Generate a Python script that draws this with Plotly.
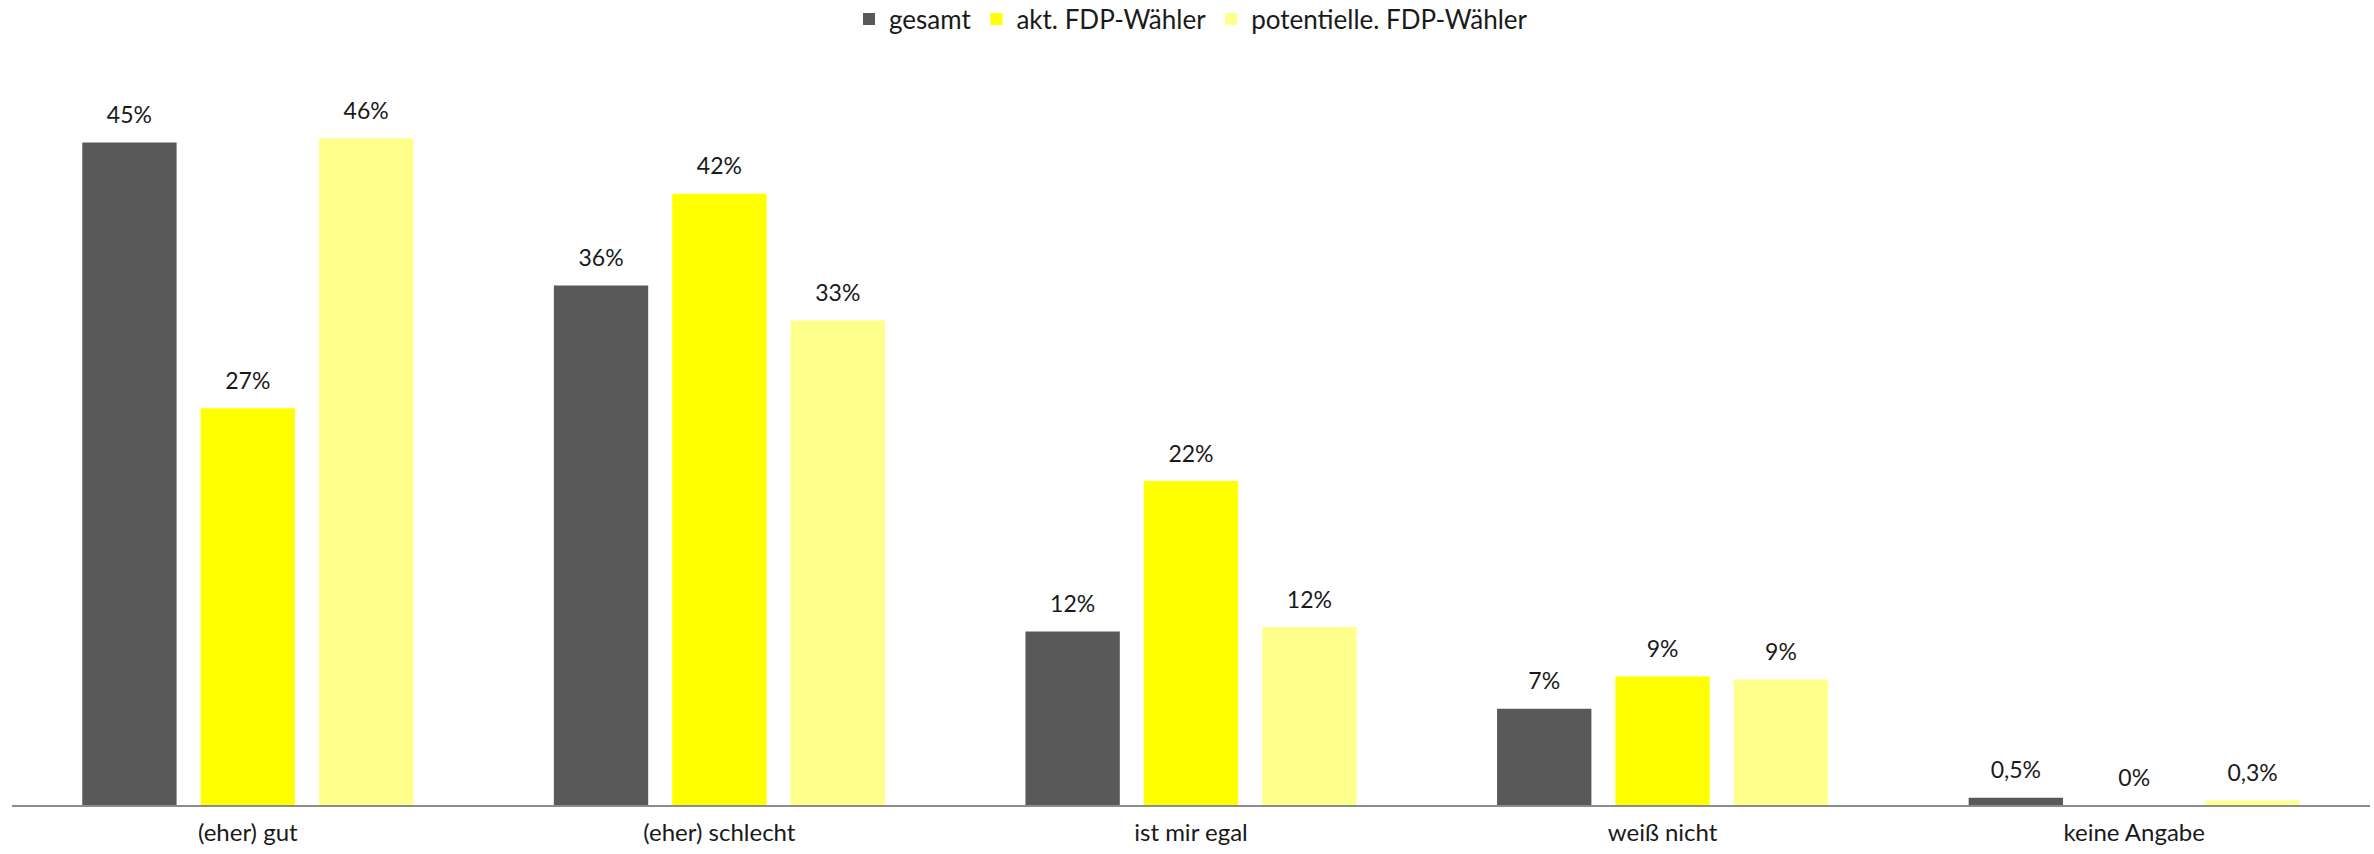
import plotly.graph_objects as go

categories = ["(eher) gut", "(eher) schlecht", "ist mir egal", "weiß nicht", "keine Angabe"]
series_names = ["gesamt", "akt. FDP-Wähler", "potentielle. FDP-Wähler"]
gesamt = [45.4, 35.6, 11.9, 6.6, 0.5]
akt = [27.2, 41.9, 22.2, 8.8, 0.0]
pot = [45.7, 33.2, 12.2, 8.6, 0.3]
gesamt_labels = ["45%", "36%", "12%", "7%", "0,5%"]
akt_labels = ["27%", "42%", "22%", "9%", "0%"]
pot_labels = ["46%", "33%", "12%", "9%", "0,3%"]

colors = ["#595959", "#FFFF00", "#FFFF8C"]
FONT = "Lato, 'Open Sans', sans-serif"
TXT = "#1a1a1a"

fig = go.Figure()
all_vals = [gesamt, akt, pot]
all_labels = [gesamt_labels, akt_labels, pot_labels]
for i, (name, vals, col) in enumerate(zip(series_names, all_vals, colors)):
    fig.add_trace(go.Bar(
        x=categories, y=vals, name=name, marker=dict(color=col, line=dict(width=0)),
        offsetgroup=str(i), hoverinfo="skip",
    ))
for i, (vals, labs) in enumerate(zip(all_vals, all_labels)):
    fig.add_trace(go.Scatter(
        x=categories, y=vals, text=labs, mode="markers+text", textposition="top center",
        textfont=dict(size=23, color=TXT, family=FONT),
        offsetgroup=str(i), showlegend=False, hoverinfo="skip", cliponaxis=False,
        marker=dict(size=20, opacity=0, color="white"),
    ))

k = 14.59
plot_top = 60
plot_h = 805 - plot_top
fig.update_layout(
    width=2374, height=854,
    margin=dict(l=12, r=4, t=plot_top, b=854 - 805, autoexpand=False),
    paper_bgcolor="white", plot_bgcolor="white",
    barmode="group", bargap=0.247, bargroupgap=0.203,
    scattermode="group", scattergap=0.247,
    font=dict(family=FONT, size=23, color=TXT),
    legend=dict(orientation="h", x=0.5, xanchor="center", y=1 + (plot_top - 19) / plot_h,
                yanchor="middle", font=dict(size=26, color=TXT, family=FONT),
                itemclick=False, itemdoubleclick=False),
    xaxis=dict(showline=True, linecolor="#8c8c8c", linewidth=1.5, ticks="",
               showgrid=False, tickfont=dict(size=24, color=TXT, family=FONT),
               ticklabelstandoff=5),
    yaxis=dict(visible=False, range=[0, plot_h / k], showgrid=False, zeroline=False),
)

fig.write_html("out.html")
